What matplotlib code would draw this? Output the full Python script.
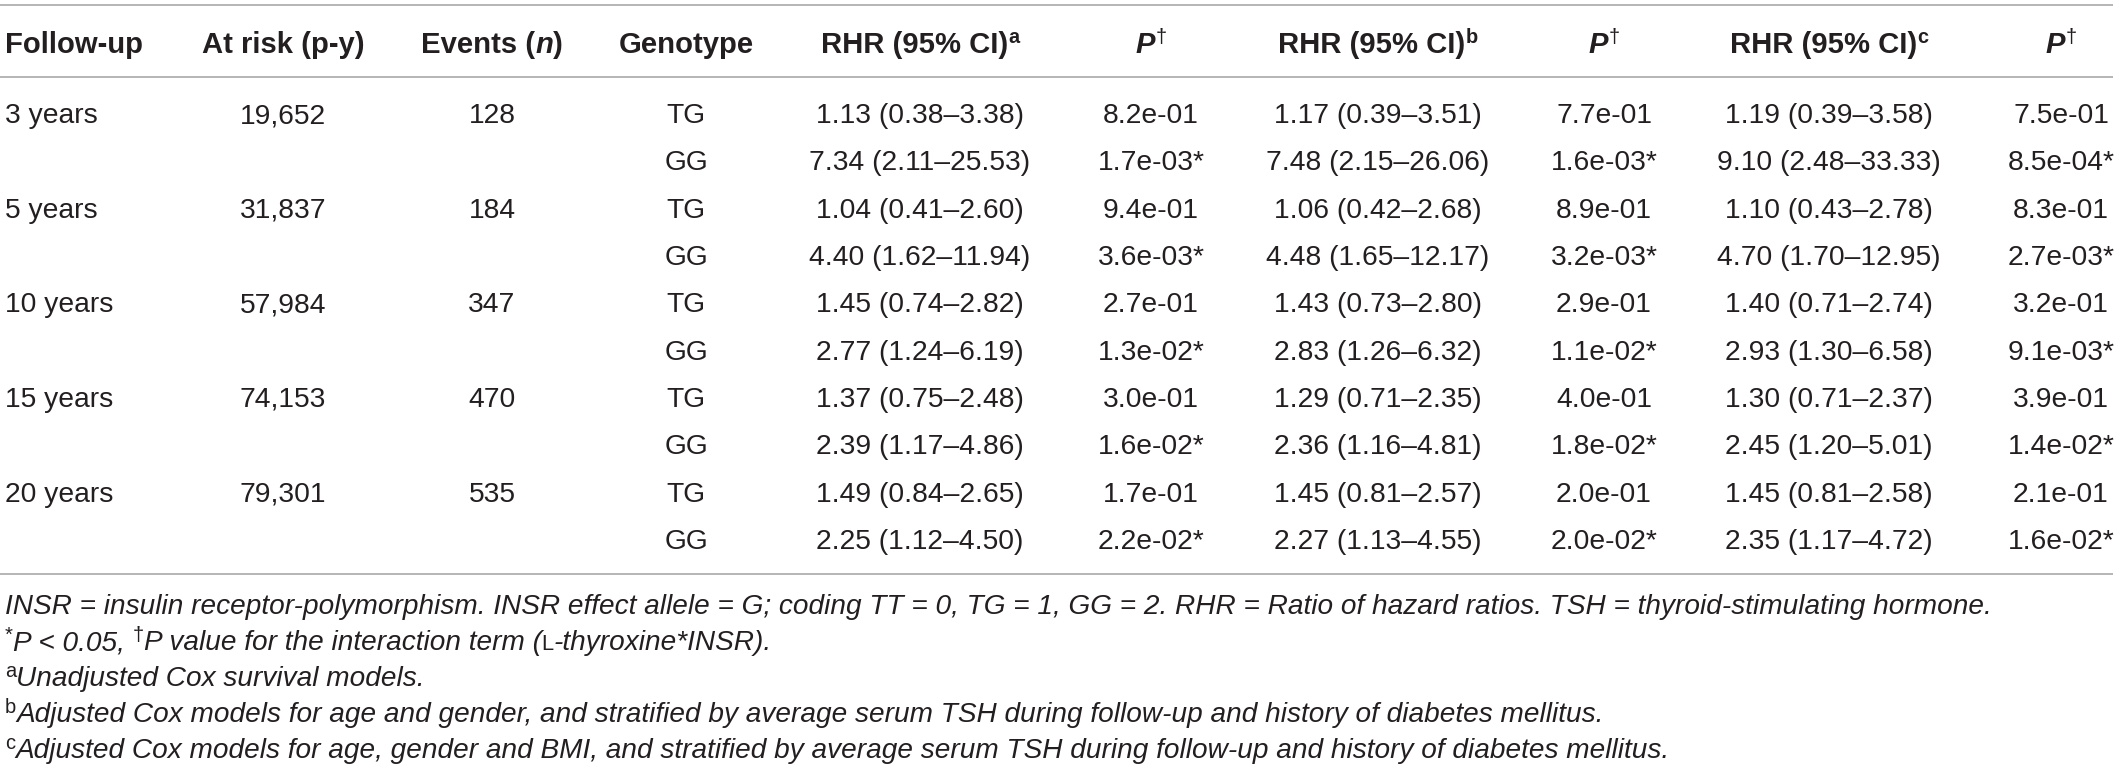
import matplotlib
matplotlib.use("Agg")
import matplotlib.pyplot as plt
from matplotlib import font_manager as fm

# ---------------- data ----------------
follow_up = ["3 years", "5 years", "10 years", "15 years", "20 years"]
at_risk = [19652, 31837, 57984, 74153, 79301]
events = [128, 184, 347, 470, 535]
genotypes = ["TG", "GG"]

# RHR estimate, lower, upper  (per follow-up: TG, GG)
rhr_a = [[(1.13, 0.38, 3.38), (7.34, 2.11, 25.53)],
         [(1.04, 0.41, 2.60), (4.40, 1.62, 11.94)],
         [(1.45, 0.74, 2.82), (2.77, 1.24, 6.19)],
         [(1.37, 0.75, 2.48), (2.39, 1.17, 4.86)],
         [(1.49, 0.84, 2.65), (2.25, 1.12, 4.50)]]
p_a = [[8.2e-01, 1.7e-03], [9.4e-01, 3.6e-03], [2.7e-01, 1.3e-02],
       [3.0e-01, 1.6e-02], [1.7e-01, 2.2e-02]]
rhr_b = [[(1.17, 0.39, 3.51), (7.48, 2.15, 26.06)],
         [(1.06, 0.42, 2.68), (4.48, 1.65, 12.17)],
         [(1.43, 0.73, 2.80), (2.83, 1.26, 6.32)],
         [(1.29, 0.71, 2.35), (2.36, 1.16, 4.81)],
         [(1.45, 0.81, 2.57), (2.27, 1.13, 4.55)]]
p_b = [[7.7e-01, 1.6e-03], [8.9e-01, 3.2e-03], [2.9e-01, 1.1e-02],
       [4.0e-01, 1.8e-02], [2.0e-01, 2.0e-02]]
rhr_c = [[(1.19, 0.39, 3.58), (9.10, 2.48, 33.33)],
         [(1.10, 0.43, 2.78), (4.70, 1.70, 12.95)],
         [(1.40, 0.71, 2.74), (2.93, 1.30, 6.58)],
         [(1.30, 0.71, 2.37), (2.45, 1.20, 5.01)],
         [(1.45, 0.81, 2.58), (2.35, 1.17, 4.72)]]
p_c = [[7.5e-01, 8.5e-04], [8.3e-01, 2.7e-03], [3.2e-01, 9.1e-03],
       [3.9e-01, 1.4e-02], [2.1e-01, 1.6e-02]]

rhr_sup = ["a", "b", "c"]

footnotes = [
    [("INSR = insulin receptor-polymorphism. INSR effect allele = G; coding TT = 0, TG = 1, "
      "GG = 2. RHR = Ratio of hazard ratios. TSH = thyroid-stimulating hormone.", "i")],
    [("*", "sup"), ("P < 0.05, ", "i"), ("\u2020", "sup"),
     ("P value for the interaction term (", "i"), ("L", "sc"), ("-thyroxine*INSR).", "i")],
    [("a", "sup"), ("Unadjusted Cox survival models.", "i")],
    [("b", "sup"), ("Adjusted Cox models for age and gender, and stratified by average serum TSH "
                    "during follow-up and history of diabetes mellitus.", "i")],
    [("c", "sup"), ("Adjusted Cox models for age, gender and BMI, and stratified by average serum "
                    "TSH during follow-up and history of diabetes mellitus.", "i")],
]

# ---------------- setup ----------------
W, H = 2117, 772
TXT = "#231f20"
RULE = "#a9a9a9"

names = {f.name for f in fm.fontManager.ttflist}
if "Liberation Sans Narrow" in names:
    FAM = "Liberation Sans Narrow"
else:
    FAM = "Liberation Sans"

fig = plt.figure(figsize=(W / 100, H / 100), dpi=100)
ax = fig.add_axes([0, 0, 1, 1])
ax.set_xlim(0, W)
ax.set_ylim(H, 0)
ax.axis("off")
fig.canvas.draw()
R = fig.canvas.get_renderer()

STYLE = {
    "n": dict(weight="normal", style="normal"),
    "i": dict(weight="normal", style="italic"),
    "b": dict(weight="bold", style="normal"),
    "bi": dict(weight="bold", style="italic"),
}


def width(s, size, weight="normal", style="normal"):
    t = ax.text(0, 0, s + "|", fontsize=size, family=FAM, fontweight=weight, fontstyle=style)
    w1 = t.get_window_extent(R).width
    t.remove()
    t = ax.text(0, 0, "|", fontsize=size, family=FAM, fontweight=weight, fontstyle=style)
    w2 = t.get_window_extent(R).width
    t.remove()
    return w1 - w2


def fit(s, target, **kw):
    return 20 * target / width(s, 20, **kw)


BODY = fit("1.13 (0.38\u20133.38)", 208)
HEAD = fit("Follow-up", 138, weight="bold")
FOOT = fit(footnotes[0][0][0], 1981, style="italic")


def seg_props(kind, size, base_kind, sup_scale):
    """Return (fontsize, weight, style, raise_px)."""
    em = size * 100 / 72
    if kind == "sup":
        st = STYLE[base_kind]
        return size * sup_scale, st["weight"], "normal", em * 0.34
    if kind == "supb":
        return size * sup_scale, "bold", "normal", em * 0.34
    if kind == "sc":
        return size * 0.78, "normal", "normal", 0
    st = STYLE[kind]
    return size, st["weight"], st["style"], 0


def draw(x, yc, segs, size, align="center", base_kind="n", sup_scale=0.62):
    em = size * 100 / 72
    base = yc + 0.36 * em
    parts = []
    total = 0
    for s, k in segs:
        fs, wt, sty, rs = seg_props(k, size, base_kind, sup_scale)
        w = width(s, fs, weight=wt, style=sty)
        parts.append((s, fs, wt, sty, rs, w))
        total += w
    cx = x - total / 2 if align == "center" else x
    for s, fs, wt, sty, rs, w in parts:
        ax.text(cx, base - rs, s, fontsize=fs, family=FAM, fontweight=wt, fontstyle=sty,
                color=TXT, va="baseline", ha="left")
        cx += w


# ---------------- layout ----------------
col_x = [5, 283, 492, 686, 920, 1151, 1378, 1604, 1829, 2061]
head_y = 42
row0, dy = 113, 47.3

# rules
for yy in (5, 77, 574):
    ax.plot([0, 2113], [yy, yy], color=RULE, lw=1.2, solid_capstyle="butt")

# header
draw(col_x[0], head_y, [("Follow-up", "b")], HEAD, align="left")
draw(col_x[1], head_y, [("At risk (p-y)", "b")], HEAD)
draw(col_x[2], head_y, [("Events (", "b"), ("n", "bi"), (")", "b")], HEAD)
draw(col_x[3], head_y, [("Genotype", "b")], HEAD)
for j in range(3):
    draw(col_x[4 + 2 * j], head_y, [("RHR (95% CI)", "b"), (rhr_sup[j], "supb")], HEAD,
         sup_scale=0.68)
    draw(col_x[5 + 2 * j], head_y, [("P", "bi"), ("\u2020", "sup")], HEAD, sup_scale=0.68)


def fmt_rhr(v):
    e, lo, hi = v
    return f"{e:.2f} ({lo:.2f}\u2013{hi:.2f})"


def fmt_p(p):
    return f"{p:.1e}" + ("*" if p < 0.05 else "")


rhr_sets = [rhr_a, rhr_b, rhr_c]
p_sets = [p_a, p_b, p_c]
for i in range(len(follow_up)):
    for g in range(2):
        y = row0 + dy * (2 * i + g)
        if g == 0:
            draw(col_x[0], y, [(follow_up[i], "n")], BODY, align="left")
            draw(col_x[1], y, [(f"{at_risk[i]:,}", "n")], BODY)
            draw(col_x[2], y, [(str(events[i]), "n")], BODY)
        draw(col_x[3], y, [(genotypes[g], "n")], BODY)
        for j in range(3):
            draw(col_x[4 + 2 * j], y, [(fmt_rhr(rhr_sets[j][i][g]), "n")], BODY)
            draw(col_x[5 + 2 * j], y, [(fmt_p(p_sets[j][i][g]), "n")], BODY)

# footnotes
foot_y0, foot_dy = 604, 36
for k, segs in enumerate(footnotes):
    draw(5, foot_y0 + foot_dy * k, segs, FOOT, align="left", base_kind="i", sup_scale=0.72)

fig.savefig("out.png", dpi=100)
